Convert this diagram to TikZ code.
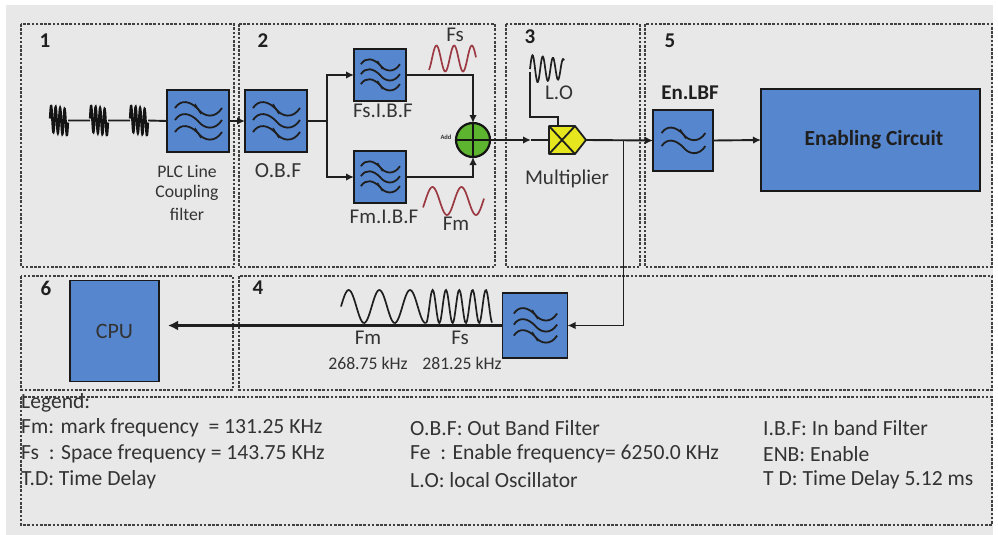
\documentclass[tikz,border=0pt]{standalone}
\usepackage{fontspec}
\setmainfont{Carlito}
\usetikzlibrary{arrows.meta}
\definecolor{bgc}{HTML}{E8E8E8}
\definecolor{blk}{HTML}{5686CE}
\definecolor{grn}{HTML}{5DB52F}
\definecolor{ylw}{HTML}{E6E61E}
\definecolor{redw}{HTML}{9C3A44}
\definecolor{txt}{HTML}{333333}
\tikzset{
  zone/.style={draw=black!75,line width=1.1pt,dash pattern=on 2.6pt off 1.6pt},
  blockbox/.style={draw=black!90,line width=1.7pt,fill=blk,inner sep=0pt,outer sep=0pt},
  wire/.style={line width=1.9pt,draw=black!88},
  arw/.style={wire,-{Latex[length=8pt,width=7.5pt]}},
  lab/.style={text=txt,inner sep=0pt,font=\fontsize{21}{24}\selectfont},
  small/.style={lab,font=\fontsize{17.7}{20}\selectfont},
  num/.style={text=black!88,inner sep=0pt,font=\bfseries\fontsize{21}{24}\selectfont},
  leg/.style={text=txt,inner sep=0pt,anchor=west,font=\fontsize{21.6}{24}\selectfont},
  wv/.style={line width=1.7pt,smooth,draw=black!88},
  rw/.style={line width=1.7pt,smooth,draw=redw},
}
\newcommand{\wavey}[2]{%
  \draw[line width=1.8pt,black!88,scale=#2] (-23,#1-1) .. controls (-17,#1-10) and (-8,#1-8) .. (0,#1) .. controls (6,#1+8) and (17,#1+10) .. (24,#1-1);}
\newcommand{\filtthree}[2]{\begin{scope}[shift={(#1.center)}]
  \wavey{-12}{#2}\wavey{0}{#2}\wavey{12}{#2}
  \draw[line width=1.3pt,black!88,scale=#2] (-3,-17)--(3,-7) (-3,7)--(3,17);
\end{scope}}
\newcommand{\filttwo}[2]{\begin{scope}[shift={(#1.center)}]
  \wavey{-7}{#2}\wavey{7}{#2}
  \draw[line width=1.3pt,black!88,scale=#2] (-3,-12)--(3,-2);
\end{scope}}
\newcommand{\coil}[1]{\begin{scope}[shift={(#1)}]
  \draw[line width=2.2pt,black!92] plot[smooth,samples=90,domain=0:18] (\x,{-13*sin(80*\x)+2*(\x-9)/9});
\end{scope}}
\begin{document}
\begin{tikzpicture}[x=1pt,y=-1pt]
\useasboundingbox (0,0) rectangle (998,535);
\fill[white] (0,0) rectangle (998,535);
\fill[bgc] (6,5) rectangle (993,535);
% zones
\draw[zone] (21,24) rectangle (234,267);
\draw[zone] (239,24) rectangle (495,267);
\draw[zone] (506,24) rectangle (640,267);
\draw[zone] (645,24) rectangle (992,267);
\draw[zone] (21,276) rectangle (233,390);
\draw[zone] (239,276) rectangle (992,390);
\draw[zone] (21,397) rectangle (992,525);
% zone numbers
\node[num] (n1) at (45,41) {1};
\node[num] (n2) at (263,41) {2};
\node[num] (n3) at (530,37) {3};
\node[num] (n5) at (670,41) {5};
\node[num] (n6) at (46,288) {6};
\node[num] (n4) at (258,288) {4};
% blocks
\node[blockbox,minimum width=62pt,minimum height=62pt] (plc) at (198,121) {};
\node[blockbox,minimum width=62pt,minimum height=62pt] (obf) at (276,121) {};
\node[blockbox,minimum width=52pt,minimum height=52pt] (fs) at (380,75) {};
\node[blockbox,minimum width=52pt,minimum height=52pt] (fm) at (380,177) {};
\node[blockbox,minimum width=60pt,minimum height=61pt] (lbf) at (683,140.5) {};
\node[blockbox,minimum width=219pt,minimum height=102pt,text=black!88,font=\bfseries\fontsize{21.5}{24}\selectfont] (en) at (870.5,140) {\raisebox{2pt}{\hspace{7pt}Enabling Circuit}};
\node[blockbox,minimum width=89pt,minimum height=101pt,text=black!80,font=\fontsize{22}{26}\selectfont] (cpu) at (114.5,331) {CPU};
\node[blockbox,minimum width=65pt,minimum height=65pt] (ret) at (535,325.5) {};
\filtthree{plc}{1}
\filtthree{obf}{1}
\filtthree{fs}{0.83}
\filtthree{fm}{0.83}
\filttwo{lbf}{0.93}
\filtthree{ret}{0.92}
% adder
\node[circle,draw=black!92,line width=2.2pt,fill=grn,minimum size=34pt,inner sep=0pt,outer sep=0pt] (add) at (473,140) {};
\draw[line width=2pt,black!92] (add.north)--(add.south) (add.west)--(add.east);
% multiplier
\node[minimum width=37pt,minimum height=28pt,inner sep=0pt,outer sep=0pt] (mult) at (567.5,140) {};
\draw[line width=1.8pt,black!88,fill=ylw,line join=round] (mult.north west)--([xshift=-11pt]mult.north east)--(mult.east)--([xshift=-11pt]mult.south east)--(mult.south west)--cycle;
\draw[line width=1.8pt,black!88] (mult.north west)--([xshift=-11pt]mult.south east) (mult.south west)--([xshift=-11pt]mult.north east);
% coils and input
\coil{50,120.5}
\coil{90,120.5}
\coil{130,120.5}
\coordinate (c1) at (68,120.5);
\coordinate (c2) at (90,120.5);
\coordinate (c3) at (108,120.5);
\coordinate (c4) at (130,120.5);
\coordinate (c5) at (148,120.5);
\draw[wire] (c1)--(c2) (c3)--(c4) (c5)--(plc.west);
% connectors
\draw[arw] (plc.east)--(obf.west);
\coordinate (br) at (327,121);
\draw[wire] (obf.east)--(br);
\draw[arw] (br)|-(fs.west);
\draw[arw] (br)|-(fm.west);
\draw[arw] (fs.east)-|(add.north);
\draw[arw] (fm.east)-|(add.south);
\draw[arw] (add.east)--(531,140);
\draw[wire] (531,140)--(mult.west);
\coordinate (tap) at (623.5,140);
\draw[arw] (mult.east)--(lbf.west);
\draw[arw] (lbf.east)--(en.west);
\draw[arw] (tap)|-(ret.east);
\draw[line width=2.3pt,black!88,-{Latex[length=10pt,width=10pt]}] (ret.west)--(168,325.5);
% LO
\coordinate (lo) at (530,72);
\coordinate (lob) at (558,117);
\draw[wire] ([xshift=-9.5pt]mult.north) --(lob)-|(lo);
\draw[wv] plot[samples=70,domain=0:34] ({530+\x},{69+(-14+\x*0.12)*sin(35.3*\x)});
% red waves
\draw[rw] plot[samples=60,domain=0:47] ({429+\x},{58.5-13*sin(20.34*(\x-3))});
\draw[rw] plot[samples=60,domain=0:61] ({423+\x},{201-14*sin(12.41*(\x-2.2))});
% return waveform
\draw[wv] plot[samples=70,domain=0:85] ({341+\x},{306.5-16.5*sin(11.73*\x)});
\draw[wv] plot[samples=80,domain=0:66] ({426+\x},{306.5+16.5*cos(27.07*\x)});
% labels
\node[small] (l1) at (187,171) {PLC Line};
\node[small] (l2) at (187,193) {Coupling};
\node[small] (l3) at (187,214) {filter};
\node[lab,font=\fontsize{21.5}{24}\selectfont] (lo1) at (278,171) {O.B.F};
\node[lab] (lfs) at (383,111) {Fs.I.B.F};
\node[lab] (lfm) at (384,217) {Fm.I.B.F};
\node[lab] (wfs) at (455,35) {Fs};
\node[lab] (wfm) at (456,224) {Fm};
\node[inner sep=0pt,text=txt,font=\bfseries\fontsize{6.5}{7}\selectfont] (ladd) at (446,137) {Add};
\node[lab] (llo) at (559,93) {L.O};
\node[lab] (lmu) at (567,179) {Multiplier};
\node[text=black!88,inner sep=0pt,font=\bfseries\fontsize{21}{24}\selectfont] (len) at (690,93) {En.LBF};
\node[lab] (wm4) at (368,338) {Fm};
\node[lab] (ws4) at (460,338) {Fs};
\node[small] (f1) at (368,363) {268.75 kHz};
\node[small] (f2) at (462,363) {281.25 kHz};
% legend
\node[leg] (g0) at (21,403) {Legend:};
\node[leg] (g1) at (21,428) {Fm: mark frequency  ~= 131.25 KHz};
\node[leg] (g2) at (21,454) {Fs  ~: Space frequency = 143.75 KHz};
\node[leg] (g3) at (21,480) {T.D: Time Delay};
\node[leg] (g4) at (410,428) {O.B.F: Out Band Filter};
\node[leg] (g5) at (410,454) {Fe  ~: Enable frequency= 6250.0 KHz};
\node[leg] (g6) at (410,480) {L.O: local Oscillator};
\node[leg] (g7) at (763,428) {I.B.F: In band Filter};
\node[leg] (g8) at (763,454) {ENB: Enable};
\node[leg] (g9) at (763,480) {T D: Time Delay 5.12 ms};
\end{tikzpicture}
\end{document}
